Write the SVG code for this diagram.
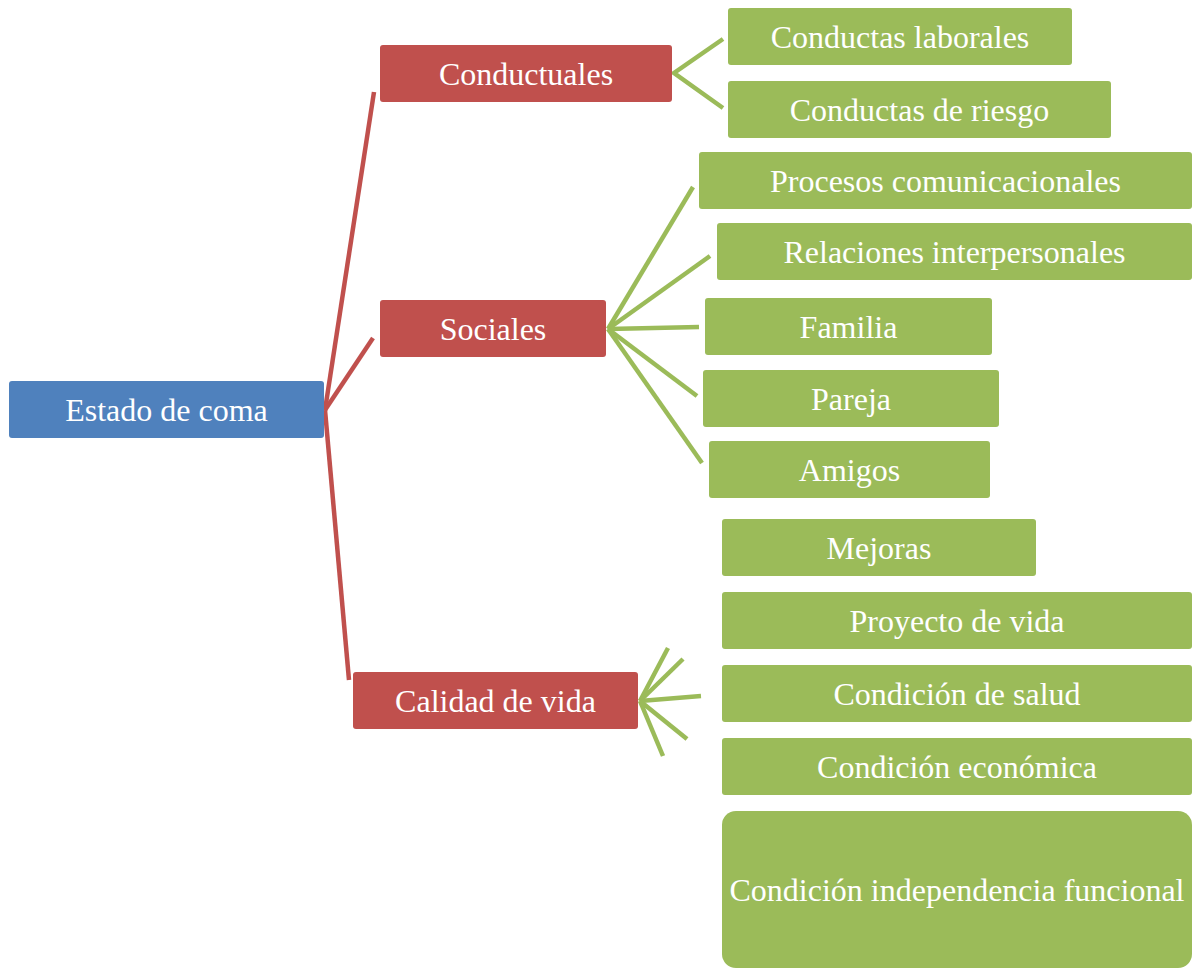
<svg xmlns="http://www.w3.org/2000/svg" width="1194" height="969" viewBox="0 0 1194 969">
<style>
.blue{fill:#4F81BD}
.red{fill:#C0504D}
.green{fill:#9BBB59}
.t{font-family:"Liberation Serif","Times New Roman",serif;font-size:32px;fill:#FFFFFF;text-anchor:middle}
.cr{stroke:#C0504D;stroke-width:4.5;fill:none;stroke-linecap:butt}
.cg{stroke:#9BBB59;stroke-width:4.5;fill:none;stroke-linecap:butt}
</style>
<rect width="1194" height="969" fill="#FFFFFF"/>
<g id="connectors">
<line class="cr" x1="325" y1="410" x2="374" y2="92"/>
<line class="cr" x1="325" y1="410" x2="373" y2="338"/>
<line class="cr" x1="325" y1="410" x2="349" y2="680"/>
<polyline class="cg" points="723,39 674,73 723,108"/>
<line class="cg" x1="608" y1="329" x2="693" y2="187"/>
<line class="cg" x1="608" y1="329" x2="710" y2="256"/>
<line class="cg" x1="608" y1="329" x2="699" y2="327"/>
<line class="cg" x1="608" y1="329" x2="697" y2="396"/>
<line class="cg" x1="608" y1="329" x2="702" y2="463"/>
<line class="cg" x1="640" y1="701" x2="668" y2="648"/>
<line class="cg" x1="640" y1="701" x2="683" y2="659"/>
<line class="cg" x1="640" y1="701" x2="701" y2="696"/>
<line class="cg" x1="640" y1="701" x2="687" y2="739"/>
<line class="cg" x1="640" y1="701" x2="663" y2="756"/>
</g>
<g id="n-estado"><rect class="blue" x="9" y="381" width="315" height="57" rx="3"/><text class="t" x="166.5" y="420.5">Estado de coma</text></g>
<g id="n-conductuales"><rect class="red" x="380" y="45" width="292" height="57" rx="3"/><text class="t" x="526" y="84.5">Conductuales</text></g>
<g id="n-sociales"><rect class="red" x="380" y="300" width="226" height="57" rx="3"/><text class="t" x="493" y="339.5">Sociales</text></g>
<g id="n-calidad"><rect class="red" x="353" y="672" width="285" height="57" rx="3"/><text class="t" x="495.5" y="711.5">Calidad de vida</text></g>
<g id="n-laborales"><rect class="green" x="728" y="8" width="344" height="57" rx="3"/><text class="t" x="900" y="47.5">Conductas laborales</text></g>
<g id="n-riesgo"><rect class="green" x="728" y="81" width="383" height="57" rx="3"/><text class="t" x="919.5" y="120.5">Conductas de riesgo</text></g>
<g id="n-procesos"><rect class="green" x="699" y="152" width="493" height="57" rx="3"/><text class="t" x="945.5" y="191.5">Procesos comunicacionales</text></g>
<g id="n-relaciones"><rect class="green" x="717" y="223" width="475" height="57" rx="3"/><text class="t" x="954.5" y="262.5">Relaciones interpersonales</text></g>
<g id="n-familia"><rect class="green" x="705" y="298" width="287" height="57" rx="3"/><text class="t" x="848.5" y="337.5">Familia</text></g>
<g id="n-pareja"><rect class="green" x="703" y="370" width="296" height="57" rx="3"/><text class="t" x="851" y="409.5">Pareja</text></g>
<g id="n-amigos"><rect class="green" x="709" y="441" width="281" height="57" rx="3"/><text class="t" x="849.5" y="480.5">Amigos</text></g>
<g id="n-mejoras"><rect class="green" x="722" y="519" width="314" height="57" rx="3"/><text class="t" x="879" y="558.5">Mejoras</text></g>
<g id="n-proyecto"><rect class="green" x="722" y="592" width="470" height="57" rx="3"/><text class="t" x="957" y="631.5">Proyecto de vida</text></g>
<g id="n-salud"><rect class="green" x="722" y="665" width="470" height="57" rx="3"/><text class="t" x="957" y="704.5">Condición de salud</text></g>
<g id="n-economica"><rect class="green" x="722" y="738" width="470" height="57" rx="3"/><text class="t" x="957" y="777.5">Condición económica</text></g>
<g id="n-independencia"><rect class="green" x="722" y="811" width="470" height="157" rx="14"/><text class="t" x="957" y="901">Condición independencia funcional</text></g>
</svg>
